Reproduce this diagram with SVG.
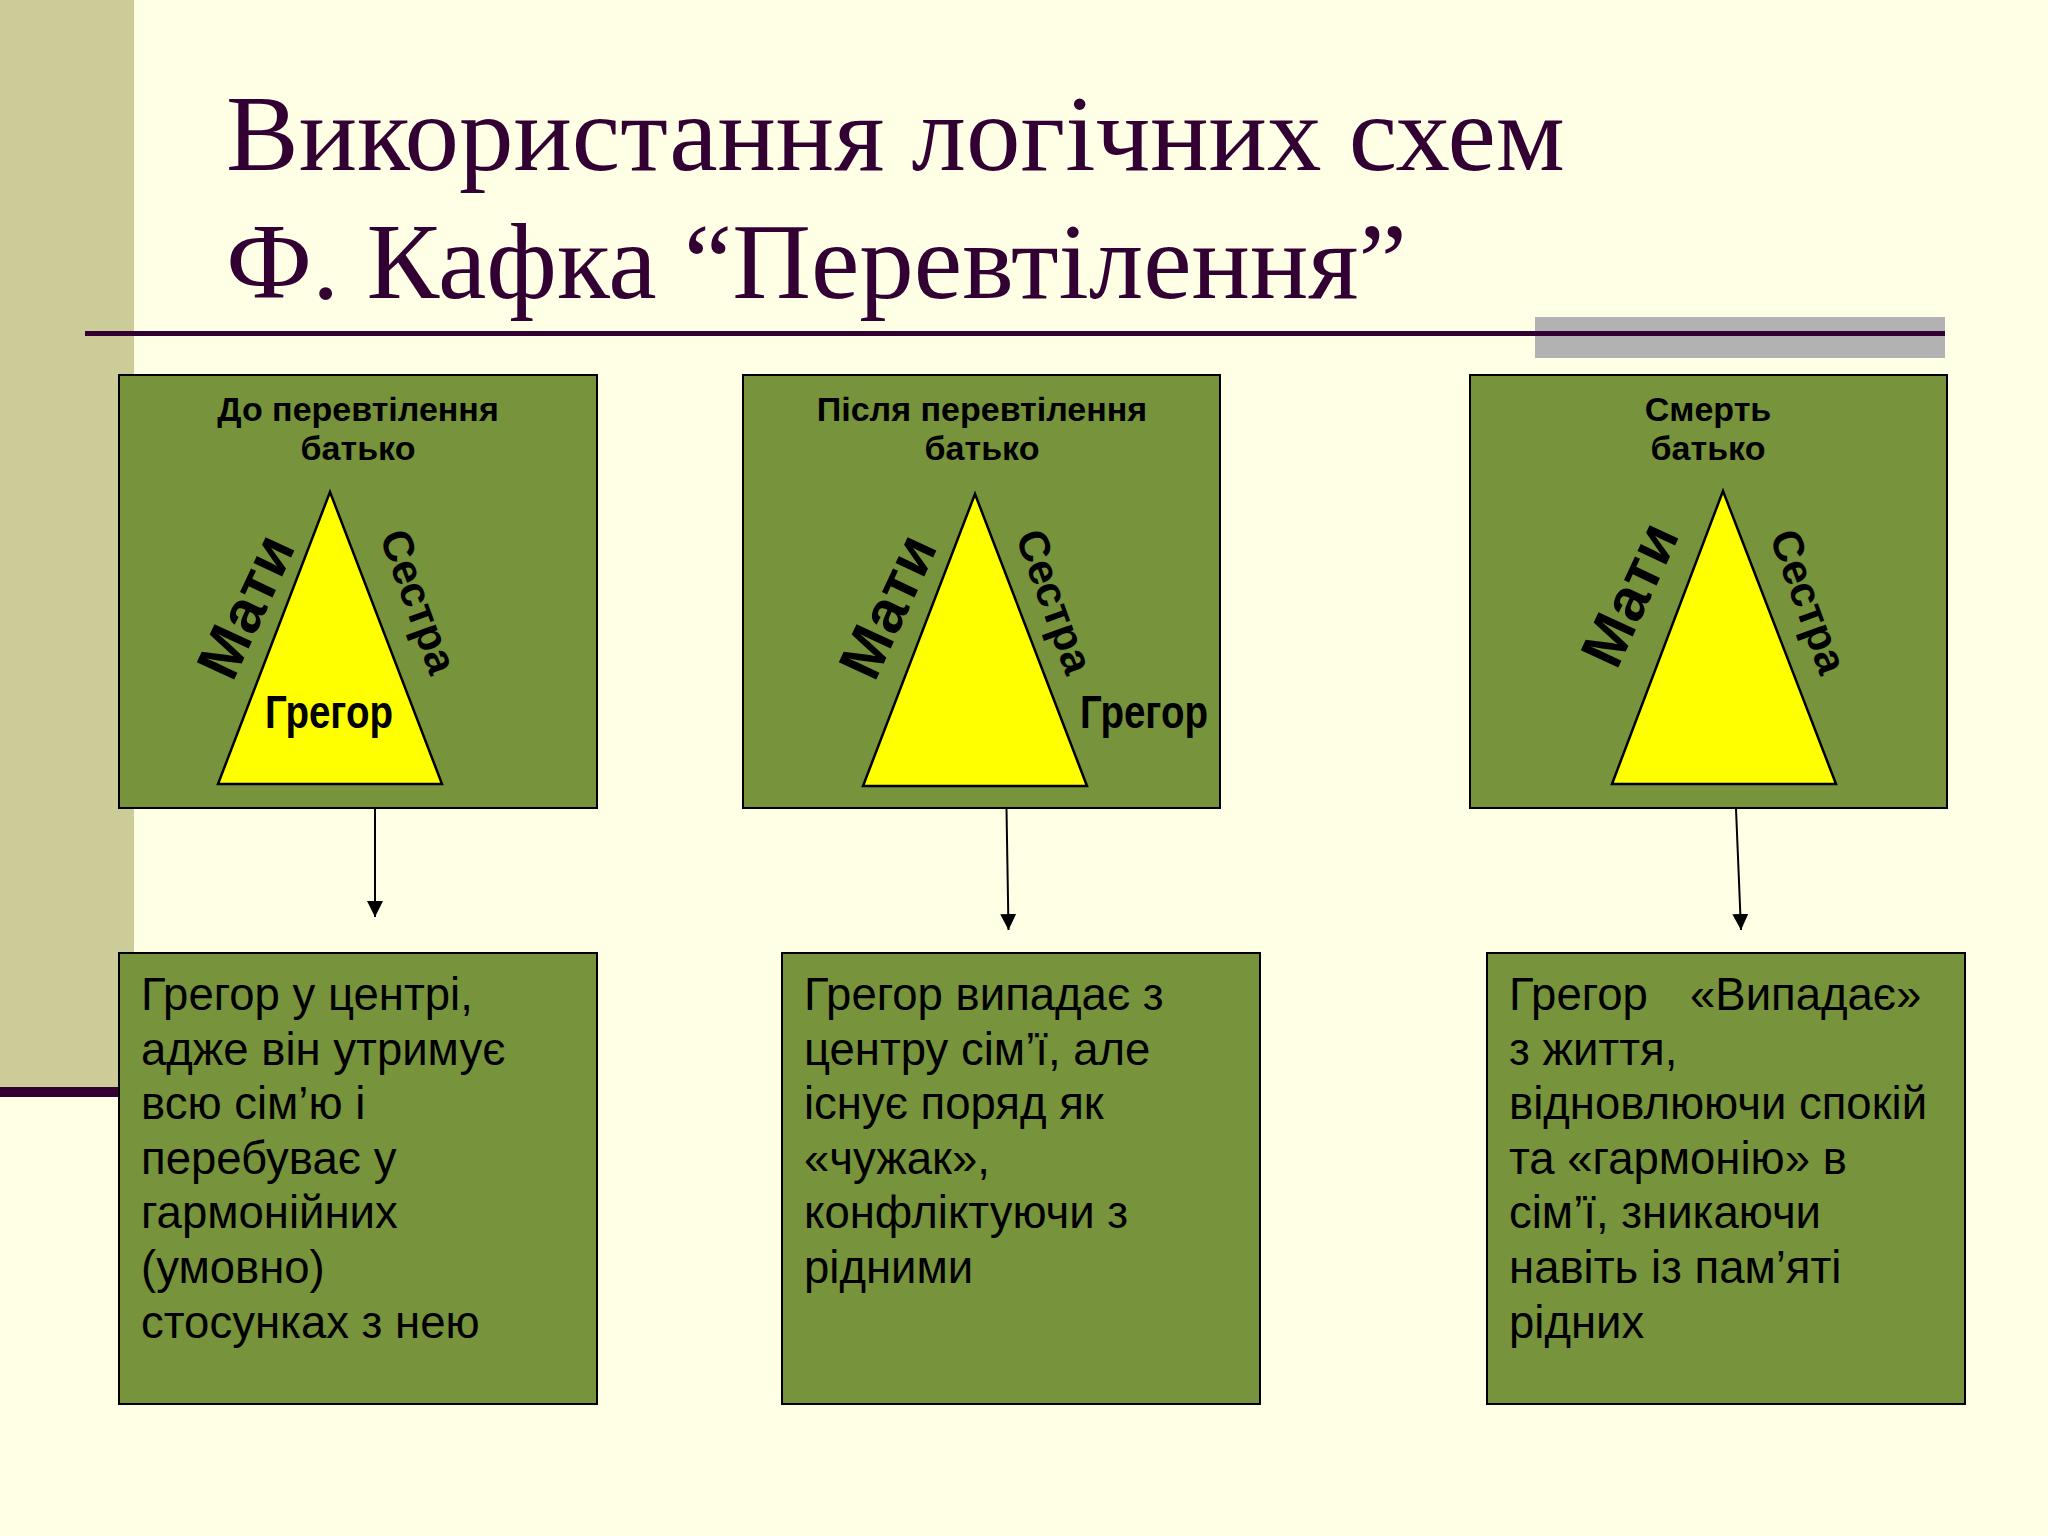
<svg xmlns="http://www.w3.org/2000/svg" width="2048" height="1536" viewBox="0 0 2048 1536">
<defs>
<style>
.title{font-family:"Liberation Serif","Times New Roman",serif;font-size:109px;fill:#330033}
.box{fill:#77933c;stroke:#000;stroke-width:2}
.tri{fill:#ffff00;stroke:#000;stroke-width:2.5;stroke-linejoin:miter}
.hdr{font-family:"Liberation Sans",Arial,sans-serif;font-weight:bold;font-size:34px;fill:#000;text-anchor:middle}
.side{font-family:"Liberation Sans",Arial,sans-serif;font-weight:bold;fill:#000;text-anchor:middle}
.greg{font-family:"Liberation Sans",Arial,sans-serif;font-weight:bold;font-size:46px;fill:#000}
.body{font-family:"Liberation Sans",Arial,sans-serif;font-size:45.5px;fill:#000}
.conn{stroke:#000;stroke-width:2;fill:none}
</style>
<marker id="arr" viewBox="0 0 16 16" refX="16" refY="8" markerWidth="16" markerHeight="16" markerUnits="userSpaceOnUse" orient="auto">
<path d="M0,0 L16,8 L0,16 Z" fill="#000"/>
</marker>
</defs>
<rect x="0" y="0" width="2048" height="1536" fill="#ffffe6"/>
<rect x="0" y="0" width="134" height="1087" fill="#cccc99"/>
<rect x="0" y="1087" width="120" height="10" fill="#330033"/>
<rect x="1535" y="317" width="410" height="41" fill="#b2b2b2"/>
<rect x="85" y="331" width="1860" height="5" fill="#330033"/>
<g id="title">
<text class="title" x="226" y="170">Використання логічних схем</text>
<text class="title" x="226" y="298">Ф. Кафка “Перевтілення”</text>
</g>
<g id="box1">
<rect class="box" x="119" y="375" width="478" height="433"/>
<text class="hdr" x="358" y="421">До перевтілення</text>
<text class="hdr" x="358" y="460">батько</text>
<polygon class="tri" points="330,492 218,784 442,784"/>
<text class="side" font-size="60" transform="translate(247,607) rotate(-65)" x="0" y="19">Мати</text>
<text class="side" font-size="43" transform="translate(417,602) rotate(70)" x="0" y="13">Сестра</text>
<text class="greg" x="265" y="728" textLength="128" lengthAdjust="spacingAndGlyphs">Грегор</text>
</g>
<g id="box2">
<rect class="box" x="743" y="375" width="477" height="433"/>
<text class="hdr" x="982" y="421">Після перевтілення</text>
<text class="hdr" x="982" y="460">батько</text>
<polygon class="tri" points="975,494 863,786 1087,786"/>
<text class="side" font-size="60" transform="translate(889,607) rotate(-65)" x="0" y="19">Мати</text>
<text class="side" font-size="43" transform="translate(1053,602) rotate(70)" x="0" y="13">Сестра</text>
<text class="greg" x="1080" y="728" textLength="128" lengthAdjust="spacingAndGlyphs">Грегор</text>
</g>
<g id="box3">
<rect class="box" x="1470" y="375" width="477" height="433"/>
<text class="hdr" x="1708" y="421">Смерть</text>
<text class="hdr" x="1708" y="460">батько</text>
<polygon class="tri" points="1723,491 1612,784 1836,784"/>
<text class="side" font-size="60" transform="translate(1631,595) rotate(-65)" x="0" y="19">Мати</text>
<text class="side" font-size="43" transform="translate(1807,602) rotate(70)" x="0" y="13">Сестра</text>
</g>
<g id="boxA">
<rect class="box" x="119" y="953" width="478" height="451"/>
<text class="body">
<tspan x="141" y="1010">Грегор у центрі,</tspan>
<tspan x="141" y="1064.6">адже він утримує</tspan>
<tspan x="141" y="1119.2">всю сім’ю і</tspan>
<tspan x="141" y="1173.8">перебуває у</tspan>
<tspan x="141" y="1228.4">гармонійних</tspan>
<tspan x="141" y="1283">(умовно)</tspan>
<tspan x="141" y="1337.6">стосунках з нею</tspan>
</text>
</g>
<g id="boxB">
<rect class="box" x="782" y="953" width="478" height="451"/>
<text class="body">
<tspan x="804" y="1010">Грегор випадає з</tspan>
<tspan x="804" y="1064.6">центру сім’ї, але</tspan>
<tspan x="804" y="1119.2">існує поряд як</tspan>
<tspan x="804" y="1173.8">«чужак»,</tspan>
<tspan x="804" y="1228.4">конфліктуючи з</tspan>
<tspan x="804" y="1283">рідними</tspan>
</text>
</g>
<g id="boxC">
<rect class="box" x="1487" y="953" width="478" height="451"/>
<text class="body">
<tspan x="1509" y="1010">Грегор</tspan><tspan x="1690" y="1010">«Випадає»</tspan>
<tspan x="1509" y="1064.6">з життя,</tspan>
<tspan x="1509" y="1119.2">відновлюючи спокій</tspan>
<tspan x="1509" y="1173.8">та «гармонію» в</tspan>
<tspan x="1509" y="1228.4">сім’ї, зникаючи</tspan>
<tspan x="1509" y="1283">навіть із пам’яті</tspan>
<tspan x="1509" y="1337.6">рідних</tspan>
</text>
</g>
<g id="connectors">
<line class="conn" x1="375" y1="809" x2="375" y2="917" marker-end="url(#arr)"/>
<line class="conn" x1="1006.5" y1="809" x2="1008.5" y2="930" marker-end="url(#arr)"/>
<line class="conn" x1="1736" y1="809" x2="1741" y2="930" marker-end="url(#arr)"/>
</g>
</svg>
